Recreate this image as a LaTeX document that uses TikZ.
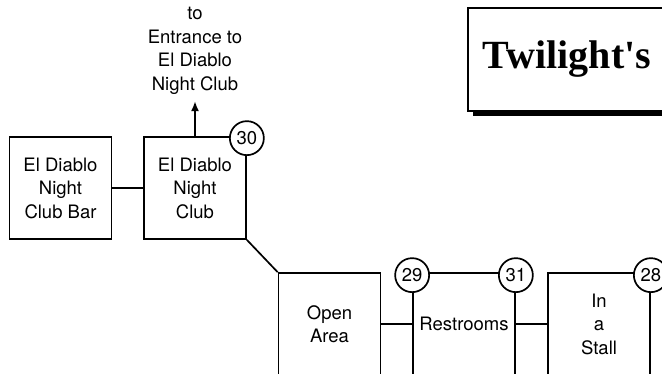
\documentclass[tikz,border=0pt]{standalone}
\usepackage{fontspec}
\setmainfont{TeX Gyre Heros}
\newfontfamily\titlefont{Liberation Serif}
\usepackage{tikz}
\usetikzlibrary{arrows.meta,positioning,shadows}

\begin{document}
\begin{tikzpicture}[x=1pt,y=-1pt,line width=1.7pt,
  room/.style={draw,minimum width=102pt,minimum height=102pt,inner sep=0pt,align=center,
    font=\fontsize{18.5}{23.5}\selectfont},
  tag/.style={circle,draw,fill=white,minimum size=34pt,inner sep=0pt,
    font=\fontsize{18.5}{18.5}\selectfont},
  title/.style={draw,fill=white,minimum width=320pt,minimum height=103pt,text width=290pt,
    inner sep=15pt,align=left,drop shadow={shadow xshift=5pt,shadow yshift=-5pt,fill=black,opacity=1},
    font=\titlefont\bfseries\fontsize{40}{40}\selectfont}]
\useasboundingbox (0,0) rectangle (662,374);
\clip (0,0) rectangle (662,374);
\node[room](bar)at(60.5,188){El Diablo\\Night\\Club Bar};
\node[room](club)at(195,188){El Diablo\\Night\\Club};
\node[room](open)at(329.5,324){Open\\Area};
\node[room](rest)at(464,324){Restrooms};
\node[room](stall)at(599,324){In\\a\\Stall};
\node[align=center,inner sep=6pt,above=35pt of club,font=\fontsize{18.5}{23.5}\selectfont](exit){to\\Entrance to\\El Diablo\\Night Club};
\node[title,anchor=north west](twil)at(467,7){Twilight's};
\draw[-{Latex[length=10pt,width=8pt]}](club.north)--(exit.south);
\draw(bar.east)--(club.west);
\draw(club.south east)--(open.north west);
\draw(open.east)--(rest.west);
\draw(rest.east)--(stall.west);
\node[tag](n30)at([yshift=-2pt]club.north east){30};
\node[tag](n29)at([yshift=-3pt]rest.north west){29};
\node[tag](n31)at([yshift=-3pt]rest.north east){31};
\node[tag](n28)at([yshift=-3pt]stall.north east){28};
\end{tikzpicture}
\end{document}
